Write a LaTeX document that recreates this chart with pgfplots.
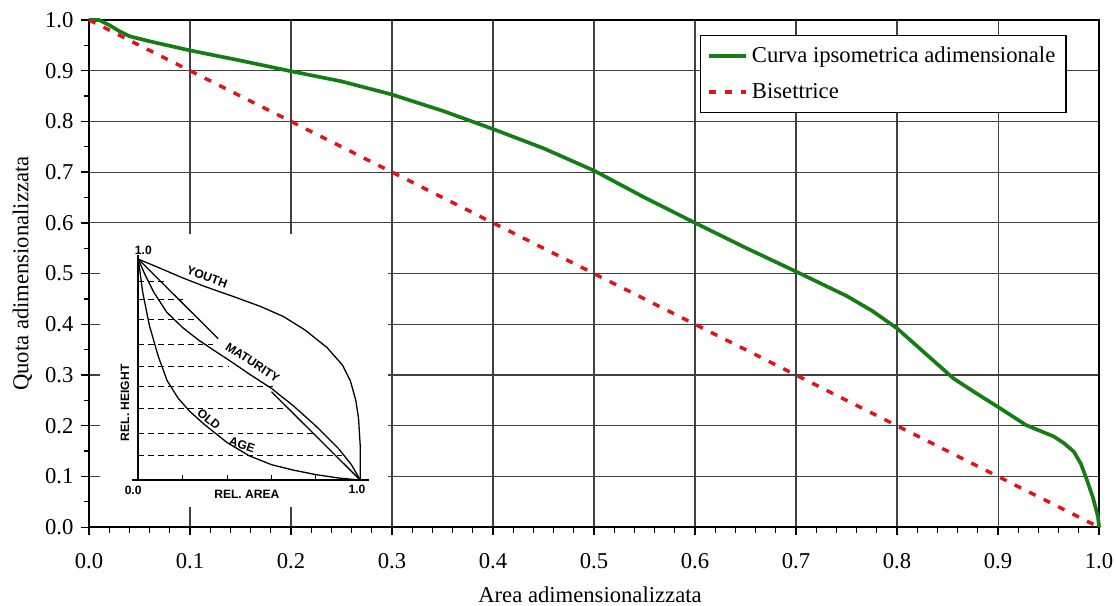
\documentclass[border=0pt]{standalone}
\usepackage{fontspec}
\setmainfont{Liberation Serif}
\newfontfamily\insetfont{Liberation Sans}
\usepackage{pgfplots}
\pgfplotsset{compat=1.18}
\definecolor{curvegreen}{RGB}{20,125,20}
\definecolor{bisred}{RGB}{232,16,24}

\pgfplotsset{
  fmt/.style={/pgf/number format/fixed, /pgf/number format/fixed zerofill,
    /pgf/number format/precision=1, /pgf/number format/assume math mode=true},
}

\begin{document}
\fontsize{10.5}{12.6}\selectfont
\begin{tikzpicture}
\begin{axis}[
  name=main,
  scale only axis, width=16.45cm, height=8.26cm,
  xmin=0, xmax=1, ymin=0, ymax=1,
  xtick={0,0.1,0.2,0.3,0.4,0.5,0.6,0.7,0.8,0.9,1.0},
  ytick={0,0.1,0.2,0.3,0.4,0.5,0.6,0.7,0.8,0.9,1.0},
  minor x tick num=4, minor y tick num=1,
  tick align=outside, xtick pos=bottom, ytick pos=left,
  major tick length=3.5pt, minor tick length=2.5pt,
  grid=major, major grid style={black!75, line width=0.5pt},
  tick style={black, line width=0.6pt},
  axis line style={black, line width=0.7pt},
  xticklabel style={fmt, yshift=-5pt},
  yticklabel style={fmt},
  xlabel={Area adimensionalizzata},
  ylabel={Quota adimensionalizzata},
  xlabel style={at={(axis description cs:0.496,-0.134)}, anchor=center},
  ylabel style={at={(axis description cs:-0.066,0.5)}, anchor=center},
  legend style={at={(axis description cs:0.968,0.97)}, anchor=north east,
    draw=black, line width=0.6pt, fill=white, row sep=4pt, inner sep=3pt,
    font=\fontsize{10.5}{12.6}\selectfont},
  legend cell align=left,
  clip=false,
]
% white background of the inset figure
\fill[white] (axis cs:0.011,0.039) rectangle (axis cs:0.296,0.578);
\coordinate (insetO) at (axis cs:0.0488,0.0927);
\coordinate (bbSW) at (axis cs:-0.0881,-0.1538);
\coordinate (bbNE) at (axis cs:1.0168,1.0394);

\addplot[curvegreen, line width=1.7pt] coordinates {
  (0,1.000) (0.01,1.000) (0.02,0.990) (0.03,0.978) (0.04,0.968)
  (0.06,0.958) (0.08,0.949) (0.10,0.940) (0.15,0.920) (0.20,0.899)
  (0.25,0.879) (0.30,0.853) (0.35,0.821) (0.40,0.785) (0.45,0.747)
  (0.50,0.703) (0.55,0.650) (0.60,0.600) (0.65,0.551) (0.70,0.504)
  (0.75,0.456) (0.775,0.427) (0.80,0.392) (0.83,0.339) (0.856,0.293)
  (0.88,0.262) (0.90,0.237) (0.928,0.201) (0.955,0.179) (0.965,0.166)
  (0.975,0.149) (0.982,0.125) (0.988,0.093) (0.994,0.058) (0.999,0.020)
  (1.0,0.0)
};
\addlegendentry{Curva ipsometrica adimensionale}
\addplot[bisred, line width=1.6pt, dash pattern=on 3.3pt off 4.2pt] coordinates {
  (0,1) (1,0)
};
\addlegendentry{Bisettrice}
\end{axis}

% inset: classic hypsometric curves
\begin{axis}[
  at={(insetO)}, anchor=south west,
  scale only axis, width=3.616cm, height=3.60cm,
  xmin=0, xmax=1, ymin=0, ymax=1,
  hide axis, clip=false,
  unbounded coords=jump,
]
\addplot[black, line width=0.55pt, dash pattern=on 2.6pt off 2pt] coordinates {
  (0,0.899) (0.12,0.899) (nan,nan)
  (0,0.816) (0.20,0.816) (nan,nan)
  (0,0.725) (0.28,0.725) (nan,nan)
  (0,0.612) (0.34,0.612) (nan,nan)
  (0,0.514) (0.41,0.514) (nan,nan)
  (0,0.423) (0.61,0.423) (nan,nan)
  (0,0.325) (0.67,0.325) (nan,nan)
  (0,0.211) (0.80,0.211) (nan,nan)
  (0,0.113) (0.92,0.113)
};
% youth
\addplot[black, line width=0.6pt] coordinates {
  (0,1) (0.1,0.958) (0.2,0.915) (0.3,0.876) (0.43,0.830) (0.55,0.786)
  (0.654,0.740) (0.75,0.680) (0.85,0.600) (0.92,0.520) (0.955,0.450)
  (0.98,0.360) (0.992,0.280) (1.0,0.150) (1.0,0)
};
% maturity (straight)
\addplot[black, line width=0.6pt] coordinates {
  (0,1) (0.36,0.64) (nan,nan) (0.6,0.4) (1,0)
};
% maturity (S-curve)
\addplot[black, line width=0.6pt] coordinates {
  (0,1) (0.03,0.93) (0.07,0.85) (0.128,0.76) (0.2,0.69) (0.27,0.635)
  (0.338,0.589) (0.42,0.535) (0.5,0.48) (0.6,0.415) (0.7,0.335)
  (0.8,0.245) (0.9,0.145) (0.96,0.07) (1,0)
};
% old age
\addplot[black, line width=0.6pt] coordinates {
  (0,1) (0.02,0.85) (0.05,0.70) (0.09,0.56) (0.13,0.45) (0.18,0.37)
  (0.233,0.31) (0.3,0.25) (0.4,0.17) (0.5,0.11) (0.6,0.07) (0.7,0.045)
  (0.8,0.025) (0.9,0.01) (1,0)
};
% axes of the inset
\addplot[black, line width=1.1pt] coordinates {(0,1.02) (0,0)};
\addplot[black, line width=1.1pt] coordinates {(-0.03,0) (1.04,0)};
\addplot[black, line width=0.5pt] coordinates {
  (0.2,0) (0.2,0.025) (nan,nan) (0.4,0) (0.4,0.025) (nan,nan)
  (0.6,0) (0.6,0.025) (nan,nan) (0.8,0) (0.8,0.025)
};
\begin{scope}[font=\insetfont\bfseries\fontsize{5.6}{6.5}\selectfont, inner sep=0pt]
\node at (axis cs:0.023,1.04) {1.0};
\node at (axis cs:-0.023,-0.045) {0.0};
\node at (axis cs:0.985,-0.04) {1.0};
\node at (axis cs:0.489,-0.063) {REL. AREA};
\node[rotate=90] at (axis cs:-0.06,0.35) {REL. HEIGHT};
\node[rotate=-20] at (axis cs:0.31,0.918) {YOUTH};
\node[rotate=-33] at (axis cs:0.515,0.532) {MATURITY};
\node[rotate=-40] at (axis cs:0.318,0.276) {OLD};
\node[rotate=-18] at (axis cs:0.468,0.16) {AGE};
\end{scope}
\end{axis}

\pgfresetboundingbox
\path (bbSW) rectangle (bbNE);
\end{tikzpicture}
\end{document}
